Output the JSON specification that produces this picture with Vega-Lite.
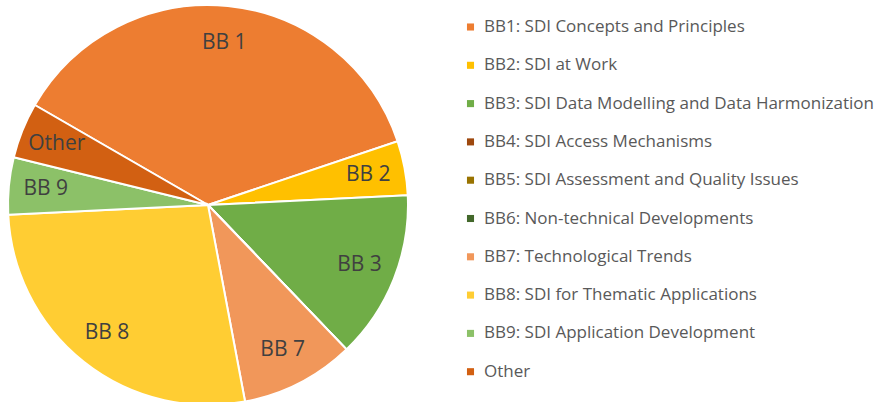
{
  "$schema": "https://vega.github.io/schema/vega-lite/v6.json",
  "width": 400,
  "height": 400,
  "padding": {"left": 4, "top": 1, "right": 0, "bottom": 0},
  "autosize": {"type": "pad"},
  "background": "white",
  "config": {"view": {"stroke": null}, "font": "Open Sans"},
  "data": {
    "values": [
      {"idx": 1, "cat": "BB1: SDI Concepts and Principles", "label": "BB 1", "value": 36.5},
      {"idx": 2, "cat": "BB2: SDI at Work", "label": "BB 2", "value": 4.4},
      {"idx": 3, "cat": "BB3: SDI Data Modelling and Data Harmonization", "label": "BB 3", "value": 13.6},
      {"idx": 4, "cat": "BB4: SDI Access Mechanisms", "label": "BB 4", "value": 0},
      {"idx": 5, "cat": "BB5: SDI Assessment and Quality Issues", "label": "BB 5", "value": 0},
      {"idx": 6, "cat": "BB6: Non-technical Developments", "label": "BB 6", "value": 0},
      {"idx": 7, "cat": "BB7: Technological Trends", "label": "BB 7", "value": 9.2},
      {"idx": 8, "cat": "BB8: SDI for Thematic Applications", "label": "BB 8", "value": 27.2},
      {"idx": 9, "cat": "BB9: SDI Application Development", "label": "BB 9", "value": 4.6},
      {"idx": 10, "cat": "Other", "label": "Other", "value": 4.5}
    ]
  },
  "encoding": {
    "theta": {"field": "value", "type": "quantitative", "stack": true, "scale": {"range": [5.23599, 11.51918]}},
    "order": {"field": "idx", "type": "quantitative"}
  },
  "layer": [
    {
      "mark": {"type": "arc", "radius": 200, "stroke": "white", "strokeWidth": 2},
      "encoding": {
        "color": {
          "field": "cat", "type": "nominal",
          "scale": {
            "domain": ["BB1: SDI Concepts and Principles", "BB2: SDI at Work", "BB3: SDI Data Modelling and Data Harmonization", "BB4: SDI Access Mechanisms", "BB5: SDI Assessment and Quality Issues", "BB6: Non-technical Developments", "BB7: Technological Trends", "BB8: SDI for Thematic Applications", "BB9: SDI Application Development", "Other"],
            "range": ["#ED7D31", "#FFC000", "#70AD47", "#9E480E", "#997300", "#43682B", "#F1975A", "#FFCD33", "#8CC168", "#D26012"]
          },
          "legend": {
            "title": null,
            "orient": "none",
            "legendX": 454,
            "legendY": 13.5,
            "symbolType": "square",
            "symbolSize": 50,
            "symbolStrokeWidth": 0,
            "labelFontSize": 17,
            "labelColor": "#595959",
            "labelFont": "Open Sans",
            "labelLimit": 500,
            "rowPadding": 20.3,
            "labelOffset": 5
          }
        }
      }
    },
    {
      "transform": [{"filter": "datum.value > 0"}],
      "mark": {"type": "text", "radius": 163, "fontSize": 21, "color": "#404040", "font": "Open Sans"},
      "encoding": {"text": {"field": "label", "type": "nominal"}}
    }
  ]
}
